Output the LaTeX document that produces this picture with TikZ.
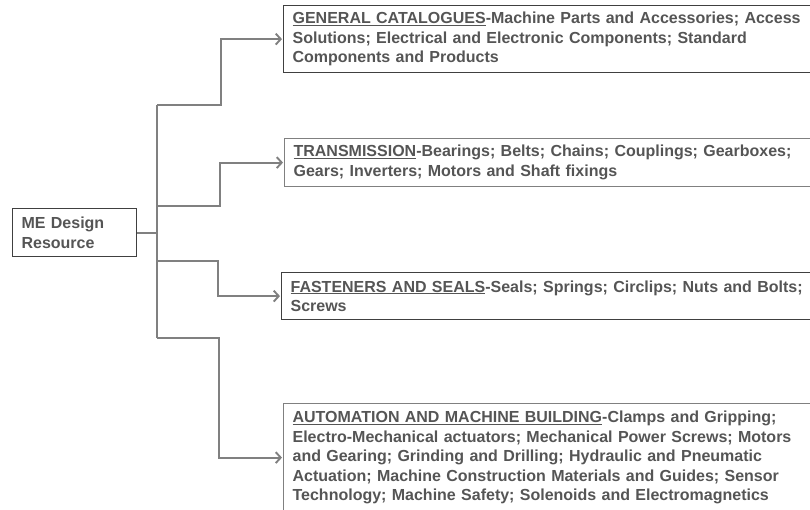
\documentclass[tikz,border=0pt]{standalone}
\usepackage{fontspec}
\setmainfont{Liberation Sans}
\usepackage{tikz}
\usetikzlibrary{arrows.meta,positioning}
\definecolor{txtgray}{HTML}{555555}
\definecolor{linegray}{HTML}{808080}
\definecolor{darkline}{HTML}{404040}
\tikzset{
  rootbox/.style = {draw=darkline, line width=1.2pt, anchor=north west, align=left,
                    text width=106pt, minimum width=124pt, minimum height=48pt,
                    inner xsep=9pt, inner ysep=0pt, text=txtgray,
                    font=\fontsize{16}{19.5}\selectfont\bfseries},
  catbox/.style  = {draw=#1, line width=1.2pt, anchor=north west, align=left,
                    text width=560pt, inner xsep=9pt, inner ysep=0pt, text=txtgray,
                    font=\fontsize{16}{19.5}\selectfont\bfseries},
  link/.style    = {draw=linegray, line width=1.9pt},
  arr/.style     = {link, -{Straight Barb[length=5pt,width=11pt]}, shorten >=1pt},
}

\begin{document}
\begin{tikzpicture}[x=1pt,y=-1pt]
  \useasboundingbox (0,0) rectangle (810,509);
  \node[rootbox] (root) at (12,208) {ME Design\\Resource};
  \node[catbox=darkline, minimum height=67pt] (gen) at (283,5)
    {\underline{GENERAL CATALOGUES}-Machine Parts and Accessories; Access\\
     Solutions; Electrical and Electronic Components; Standard\\
     Components and Products};
  \node[catbox=linegray, minimum height=48pt] (trans) at (284,138)
    {\underline{TRANSMISSION}-Bearings; Belts; Chains; Couplings; Gearboxes;\\
     Gears; Inverters; Motors and Shaft fixings};
  \node[catbox=darkline, minimum height=47pt] (fast) at (281,272)
    {\underline{FASTENERS AND SEALS}-Seals; Springs; Circlips; Nuts and Bolts;\\
     Screws};
  \node[catbox=linegray, minimum height=108pt] (auto) at (283,403)
    {\underline{AUTOMATION AND MACHINE BUILDING}-Clamps and Gripping;\\
     Electro-Mechanical actuators; Mechanical Power Screws; Motors\\
     and Gearing; Grinding and Drilling; Hydraulic and Pneumatic\\
     Actuation; Machine Construction Materials and Guides; Sensor\\
     Technology; Machine Safety; Solenoids and Electromagnetics};
  \coordinate (top) at (157,105);
  \coordinate (bot) at (157,338);
  \coordinate (j2) at (157,206);
  \coordinate (j3) at (157,261);
  \draw[link] (top) -- (bot);
  \draw[link] (root.east) -- (root.east -| top);
  \draw[arr] (top) -- ++(64,0) |- (gen.west);
  \draw[arr] (j2) -- ++(63,0) |- (trans.west);
  \draw[arr] (j3) -- ++(61,0) |- (fast.west);
  \draw[arr] (bot) -- ++(62,0) |- (auto.west);
\end{tikzpicture}
\end{document}
